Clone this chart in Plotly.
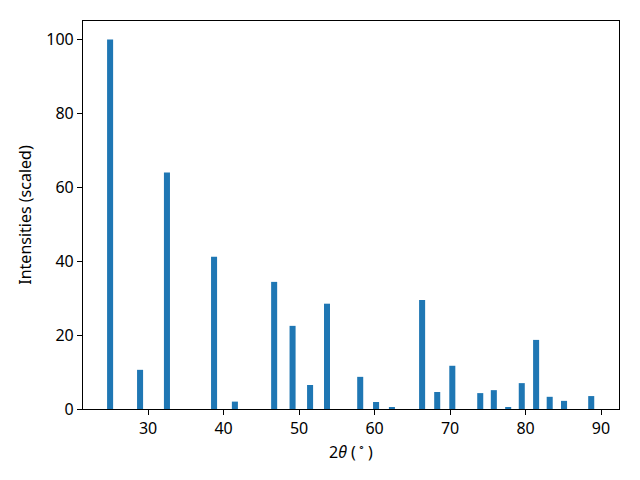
import plotly.graph_objects as go

two_theta = [24.97, 28.94, 32.5, 38.74, 41.5, 46.7, 49.14, 51.46, 53.7,
             58.1, 60.2, 62.3, 66.3, 68.3, 70.3, 74.0, 75.8, 77.7, 79.5,
             81.4, 83.2, 85.1, 88.7]
intensity = [100, 10.6, 64.0, 41.2, 2.0, 34.4, 22.5, 6.5, 28.5,
             8.7, 1.9, 0.4, 29.5, 4.6, 11.7, 4.3, 5.1, 0.3, 7.0,
             18.7, 3.3, 2.2, 3.5]
x_ticks = [30, 40, 50, 60, 70, 80, 90]
y_ticks = [0, 20, 40, 60, 80, 100]

fig = go.Figure(go.Bar(x=two_theta, y=intensity, width=0.8,
                       marker=dict(color="#1f77b4", line=dict(width=0))))

font = dict(family="Noto Sans", size=16, color="black")
axis_common = dict(showline=True, linecolor="black", linewidth=1.1, mirror=True,
                   ticks="outside", ticklen=5, tickwidth=1.1, tickcolor="black",
                   showgrid=False, zeroline=False, tickfont=font)
fig.update_xaxes(range=[21.38, 92.38], tickvals=x_ticks,
                 title=dict(text="2<i>θ</i> (\u2009<sup>∘</sup>\u2009)", font=font, standoff=6),
                 **axis_common)
fig.update_yaxes(range=[0, 105], tickvals=y_ticks,
                 title=dict(text="Intensities (scaled)", font=font, standoff=10),
                 **axis_common)
# page body has an 8px margin, so the figure is shrunk by 8px and margins shifted
fig.update_layout(width=632, height=472, margin=dict(l=75, r=21, t=13, b=71, autoexpand=False),
                  plot_bgcolor="white", paper_bgcolor="white", showlegend=False,
                  font=font)
fig.write_html("out.html")
